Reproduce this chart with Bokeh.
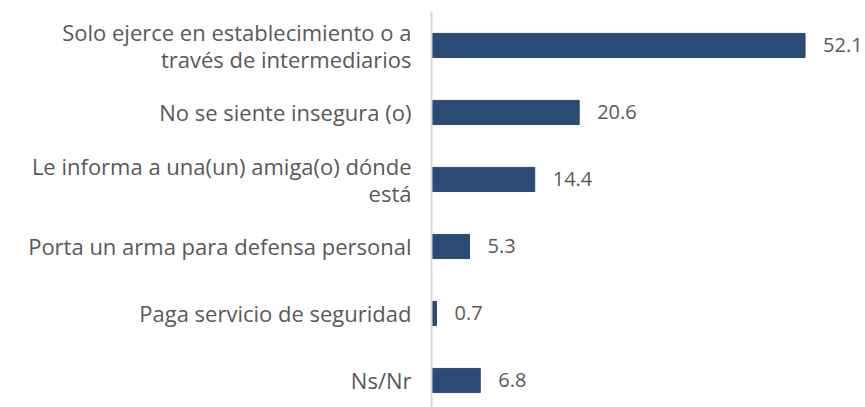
from bokeh.plotting import figure
from bokeh.models import Range1d, FixedTicker, ColumnDataSource, LabelSet
from bokeh.core.properties import value
from bokeh.embed import file_html
from bokeh.resources import INLINE

categories = [
    "Solo ejerce en establecimiento o a\ntravés de intermediarios",
    "No se siente insegura (o)",
    "Le informa a una(un) amiga(o) dónde\nestá",
    "Porta un arma para defensa personal",
    "Paga servicio de seguridad",
    "Ns/Nr",
]
values = [52.1, 20.6, 14.4, 5.3, 0.7, 6.8]
value_labels = ["52.1", "20.6", "14.4", "5.3", "0.7", "6.8"]

positions = list(range(len(categories)))
FONT = "Open Sans"
TXT = "#595959"
BAR = "#2B4A76"

src = ColumnDataSource(dict(y=positions, v=values, lab=value_labels))

p = figure(width=865, height=407, output_backend="svg", toolbar_location=None,
           x_range=Range1d(0, 60.53), y_range=Range1d(5.403, -0.507),
           min_border_left=431, min_border_right=0, min_border_top=11, min_border_bottom=0)

p.hbar(y="y", right="v", left=0, height=0.36, source=src, fill_color=BAR, line_color=BAR)

labels = LabelSet(x="v", y="y", text="lab", source=src, x_offset=18, y_offset=0,
                  text_baseline="middle", text_align="left", text_color=TXT,
                  text_font=value(FONT), text_font_size="20px")
p.add_layout(labels)

p.xaxis.visible = False
p.xgrid.visible = False
p.ygrid.visible = False
p.outline_line_color = None

ya = p.yaxis[0]
ya.ticker = FixedTicker(ticks=positions)
ya.major_label_overrides = {i: c for i, c in zip(positions, categories)}
ya.major_tick_line_color = None
ya.minor_tick_line_color = None
ya.major_tick_out = 0
ya.major_tick_in = 0
ya.axis_line_color = "#D9D9D9"
ya.axis_line_width = 2
ya.major_label_standoff = 20
ya.major_label_text_font = FONT
ya.major_label_text_font_size = "22px"
ya.major_label_text_color = TXT
ya.major_label_text_line_height = 0.9

open("out.html", "w").write(file_html(p, INLINE))
